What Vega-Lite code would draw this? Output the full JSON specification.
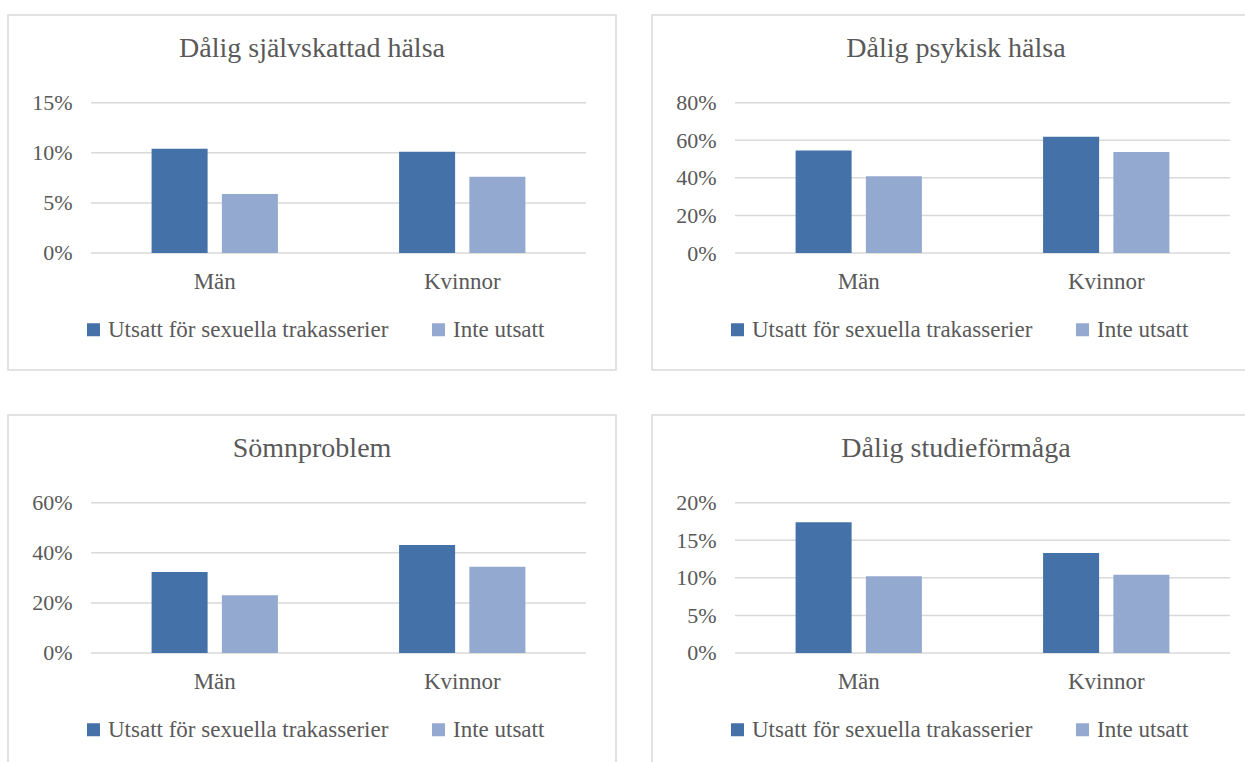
{
  "$schema": "https://vega.github.io/schema/vega-lite/v6.json",
  "background": "white",
  "padding": {"left": 7, "top": 14, "right": 0, "bottom": 0},
  "datasets": {
    "bars": [
      {"panel": "A", "grp": "Män", "s": "Utsatt för sexuella trakasserier", "v": 0.104},
      {"panel": "A", "grp": "Män", "s": "Inte utsatt", "v": 0.059},
      {"panel": "A", "grp": "Kvinnor", "s": "Utsatt för sexuella trakasserier", "v": 0.101},
      {"panel": "A", "grp": "Kvinnor", "s": "Inte utsatt", "v": 0.076},
      {"panel": "B", "grp": "Män", "s": "Utsatt för sexuella trakasserier", "v": 0.545},
      {"panel": "B", "grp": "Män", "s": "Inte utsatt", "v": 0.409},
      {"panel": "B", "grp": "Kvinnor", "s": "Utsatt för sexuella trakasserier", "v": 0.619},
      {"panel": "B", "grp": "Kvinnor", "s": "Inte utsatt", "v": 0.538},
      {"panel": "C", "grp": "Män", "s": "Utsatt för sexuella trakasserier", "v": 0.323},
      {"panel": "C", "grp": "Män", "s": "Inte utsatt", "v": 0.231},
      {"panel": "C", "grp": "Kvinnor", "s": "Utsatt för sexuella trakasserier", "v": 0.431},
      {"panel": "C", "grp": "Kvinnor", "s": "Inte utsatt", "v": 0.344},
      {"panel": "D", "grp": "Män", "s": "Utsatt för sexuella trakasserier", "v": 0.174},
      {"panel": "D", "grp": "Män", "s": "Inte utsatt", "v": 0.102},
      {"panel": "D", "grp": "Kvinnor", "s": "Utsatt för sexuella trakasserier", "v": 0.133},
      {"panel": "D", "grp": "Kvinnor", "s": "Inte utsatt", "v": 0.104}
    ],
    "grid": [
      {"panel": "A", "v": 0}, {"panel": "A", "v": 0.05}, {"panel": "A", "v": 0.1}, {"panel": "A", "v": 0.15},
      {"panel": "B", "v": 0}, {"panel": "B", "v": 0.2}, {"panel": "B", "v": 0.4}, {"panel": "B", "v": 0.6}, {"panel": "B", "v": 0.8},
      {"panel": "C", "v": 0}, {"panel": "C", "v": 0.2}, {"panel": "C", "v": 0.4}, {"panel": "C", "v": 0.6},
      {"panel": "D", "v": 0}, {"panel": "D", "v": 0.05}, {"panel": "D", "v": 0.1}, {"panel": "D", "v": 0.15}, {"panel": "D", "v": 0.2}
    ]
  },
  "columns": 2,
  "spacing": {"row": 45, "column": 36},
  "bounds": "flush",
  "resolve": {
    "scale": {"y": "independent", "x": "independent", "xOffset": "independent", "color": "independent"},
    "axis": {"y": "independent", "x": "independent"},
    "legend": {"color": "independent"}
  },
  "concat": [
    {
      "width": 608, "height": 355,
      "title": {"text": "Dålig självskattad hälsa"},
      "layer": [
        {
          "data": {"name": "grid"},
          "transform": [{"filter": "datum.panel === 'A'"}],
          "mark": {"type": "rule", "color": "#D9D9D9", "strokeWidth": 1.5},
          "encoding": {
            "y": {"field": "v", "type": "quantitative", "scale": {"domain": [-0.11677, 0.23753], "nice": false, "zero": false},
                  "axis": {"values": [0, 0.05, 0.1, 0.15], "format": ".0%", "offset": -67, "title": null}},
            "x": {"datum": "Män", "type": "nominal", "bandPosition": 0},
            "x2": {"datum": "Kvinnor", "bandPosition": 1}
          }
        },
        {
          "data": {"name": "bars"},
          "transform": [{"filter": "datum.panel === 'A'"}],
          "mark": {"type": "bar"},
          "encoding": {
            "x": {"field": "grp", "type": "nominal", "scale": {"type": "band", "domain": ["Män", "Kvinnor"], "paddingInner": 0, "paddingOuter": 0.2283, "align": 0.7345}, "axis": {"title": null}},
            "xOffset": {"field": "s", "type": "nominal", "scale": {"domain": ["Utsatt för sexuella trakasserier", "Inte utsatt"], "paddingInner": 0.203, "paddingOuter": 0.862}},
            "y": {"field": "v", "type": "quantitative"},
            "color": {"field": "s", "type": "nominal", "scale": {"domain": ["Utsatt för sexuella trakasserier", "Inte utsatt"], "range": ["#4471A7", "#93A9CF"]}, "legend": {"orient": "none", "legendX": 74, "legendY": 303}}
          }
        }
      ]
    },
    {
      "width": 608, "height": 355,
      "title": {"text": "Dålig psykisk hälsa"},
      "layer": [
        {
          "data": {"name": "grid"},
          "transform": [{"filter": "datum.panel === 'B'"}],
          "mark": {"type": "rule", "color": "#D9D9D9", "strokeWidth": 1.5},
          "encoding": {
            "y": {"field": "v", "type": "quantitative", "scale": {"domain": [-0.62275, 1.2668], "nice": false, "zero": false},
                  "axis": {"values": [0, 0.2, 0.4, 0.6, 0.8], "format": ".0%", "offset": -67, "title": null}},
            "x": {"datum": "Män", "type": "nominal", "bandPosition": 0},
            "x2": {"datum": "Kvinnor", "bandPosition": 1}
          }
        },
        {
          "data": {"name": "bars"},
          "transform": [{"filter": "datum.panel === 'B'"}],
          "mark": {"type": "bar"},
          "encoding": {
            "x": {"field": "grp", "type": "nominal", "scale": {"type": "band", "domain": ["Män", "Kvinnor"], "paddingInner": 0, "paddingOuter": 0.2283, "align": 0.7345}, "axis": {"title": null}},
            "xOffset": {"field": "s", "type": "nominal", "scale": {"domain": ["Utsatt för sexuella trakasserier", "Inte utsatt"], "paddingInner": 0.203, "paddingOuter": 0.862}},
            "y": {"field": "v", "type": "quantitative"},
            "color": {"field": "s", "type": "nominal", "scale": {"domain": ["Utsatt för sexuella trakasserier", "Inte utsatt"], "range": ["#4471A7", "#93A9CF"]}, "legend": {"orient": "none", "legendX": 74, "legendY": 303}}
          }
        }
      ]
    },
    {
      "width": 608, "height": 355,
      "title": {"text": "Sömnproblem"},
      "layer": [
        {
          "data": {"name": "grid"},
          "transform": [{"filter": "datum.panel === 'C'"}],
          "mark": {"type": "rule", "color": "#D9D9D9", "strokeWidth": 1.5},
          "encoding": {
            "y": {"field": "v", "type": "quantitative", "scale": {"domain": [-0.46707, 0.9501], "nice": false, "zero": false},
                  "axis": {"values": [0, 0.2, 0.4, 0.6], "format": ".0%", "offset": -67, "title": null}},
            "x": {"datum": "Män", "type": "nominal", "bandPosition": 0},
            "x2": {"datum": "Kvinnor", "bandPosition": 1}
          }
        },
        {
          "data": {"name": "bars"},
          "transform": [{"filter": "datum.panel === 'C'"}],
          "mark": {"type": "bar"},
          "encoding": {
            "x": {"field": "grp", "type": "nominal", "scale": {"type": "band", "domain": ["Män", "Kvinnor"], "paddingInner": 0, "paddingOuter": 0.2283, "align": 0.7345}, "axis": {"title": null}},
            "xOffset": {"field": "s", "type": "nominal", "scale": {"domain": ["Utsatt för sexuella trakasserier", "Inte utsatt"], "paddingInner": 0.203, "paddingOuter": 0.862}},
            "y": {"field": "v", "type": "quantitative"},
            "color": {"field": "s", "type": "nominal", "scale": {"domain": ["Utsatt för sexuella trakasserier", "Inte utsatt"], "range": ["#4471A7", "#93A9CF"]}, "legend": {"orient": "none", "legendX": 74, "legendY": 303}}
          }
        }
      ]
    },
    {
      "width": 608, "height": 355,
      "title": {"text": "Dålig studieförmåga"},
      "layer": [
        {
          "data": {"name": "grid"},
          "transform": [{"filter": "datum.panel === 'D'"}],
          "mark": {"type": "rule", "color": "#D9D9D9", "strokeWidth": 1.5},
          "encoding": {
            "y": {"field": "v", "type": "quantitative", "scale": {"domain": [-0.15569, 0.3167], "nice": false, "zero": false},
                  "axis": {"values": [0, 0.05, 0.1, 0.15, 0.2], "format": ".0%", "offset": -67, "title": null}},
            "x": {"datum": "Män", "type": "nominal", "bandPosition": 0},
            "x2": {"datum": "Kvinnor", "bandPosition": 1}
          }
        },
        {
          "data": {"name": "bars"},
          "transform": [{"filter": "datum.panel === 'D'"}],
          "mark": {"type": "bar"},
          "encoding": {
            "x": {"field": "grp", "type": "nominal", "scale": {"type": "band", "domain": ["Män", "Kvinnor"], "paddingInner": 0, "paddingOuter": 0.2283, "align": 0.7345}, "axis": {"title": null}},
            "xOffset": {"field": "s", "type": "nominal", "scale": {"domain": ["Utsatt för sexuella trakasserier", "Inte utsatt"], "paddingInner": 0.203, "paddingOuter": 0.862}},
            "y": {"field": "v", "type": "quantitative"},
            "color": {"field": "s", "type": "nominal", "scale": {"domain": ["Utsatt för sexuella trakasserier", "Inte utsatt"], "range": ["#4471A7", "#93A9CF"]}, "legend": {"orient": "none", "legendX": 74, "legendY": 303}}
          }
        }
      ]
    }
  ],
  "config": {
    "font": "Liberation Serif",
    "view": {"stroke": "#D9D9D9", "strokeWidth": 1.5},
    "title": {"fontSize": 28, "font": "Liberation Serif", "fontWeight": "normal", "color": "#595959", "anchor": "middle", "frame": "group", "baseline": "alphabetic", "offset": -48},
    "axisY": {"domain": false, "ticks": false, "tickSize": 0, "grid": false, "labelPadding": 3, "labelFontSize": 22, "labelColor": "#595959", "labelFont": "Liberation Serif"},
    "axisX": {"orient": "bottom", "offset": -117, "domain": false, "ticks": false, "tickSize": 0, "grid": false, "labelPadding": 35, "labelBaseline": "alphabetic", "labelAngle": 0, "labelFontSize": 23, "labelColor": "#595959", "labelFont": "Liberation Serif"},
    "legend": {"direction": "horizontal", "title": null, "symbolType": "square", "symbolSize": 169, "symbolStrokeWidth": 0, "symbolOpacity": 1, "labelFontSize": 23, "labelFont": "Liberation Serif", "labelColor": "#595959", "labelOffset": 3, "columnPadding": 38, "labelLimit": 0, "padding": 0}
  }
}
